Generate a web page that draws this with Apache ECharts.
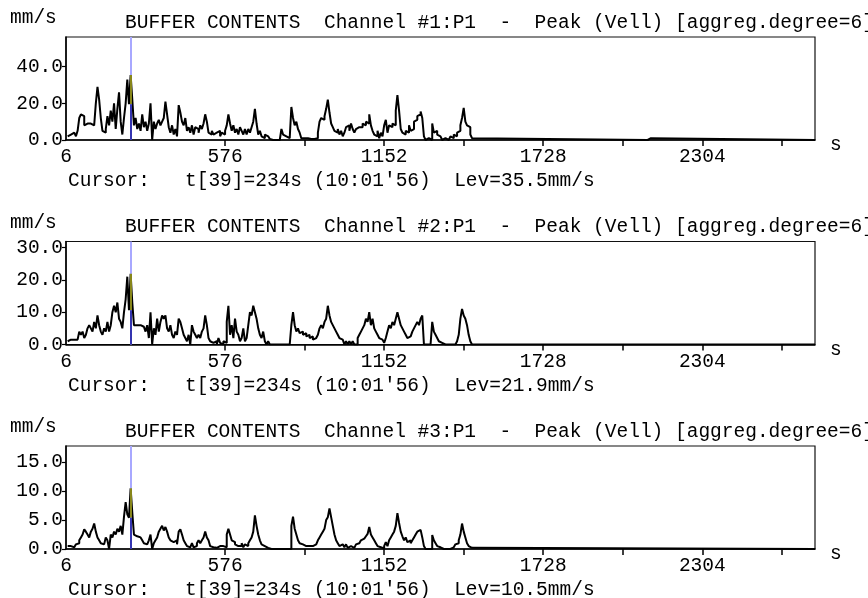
<!DOCTYPE html>
<html>
<head>
<meta charset="utf-8">
<script src="https://cdn.jsdelivr.net/npm/echarts@6/dist/echarts.min.js"></script>
<style>
html,body{margin:0;padding:0;background:#fff;}
#chart{width:868px;height:598px;}
</style>
</head>
<body>
<div id="chart"></div>
<script>
// ---- data (sample period 6 s, t = 6*i) ----
const SAMPLE_PERIOD = 6;
const CH1 = [
2,3,2,4,3,2,5, 12,14,13, 8,9,8,9,8,8,9, 20,29,22,12, 5,4,6, 13,8,16,10, 20,6, 17,26, 10,3,12, 20,33,19.5, 35.5, 22,
8,12,6,9,5, 14, 7,10,5,9,20, 0, 10,6,9,11,8,10,12, 21,14, 7,4,8,3,6,2, 19,15, 10,8,12,5,7,
4,8,3,7,6,4,8,6,9, 14,10, 4,3,5,3,4,3,5,2,4,3,5, 8,14,9, 5,8,4,6,3,7,5,3,6,3,6,4,7, 10,17,9, 3,5,2,1,3,2,
1,0.5,0,0.5,0,1,0,1, 6,3,2,1,1, 1, 18,12, 8,10,6,4, 1,1,2,1,1,0.5,1,0.5,1,1, 4,10,12,11,13, 17,22,15, 9,7,5,
4,6,3,5,2,4,7, 8,5,9,6, 4,6,7,8,7,9,8,10,9, 14,8,5, 3,2,5,1,4,2, 8,11,4, 8,7,9,8, 16,24.5,16, 6,4,3,5,4,
8,5,6,10,11, 13,14,15.5,12, 2,0,1,0,0, 9,4,5,3, 2,1,0,1,0,0, 1,2,1,3,2,4,5, 8,12,17.5, 10,8,7,3, 1, 0
];
const CH2 = [
1,1.5,1.5,1.5,2,1.5,2, 4,3,4, 2,3,5, 6,5,4,7, 5,9,6, 4,3,5,4, 7,4,6, 10,12,10, 13,8,7, 5,10,14, 21,10.6, 21.9, 13,
6,6,6.5,6,6,5.5,5,4,6, 2,10,0,5, 3,8,4, 7,9,8,9, 5,4,6,3,2,4,3, 8,7,5, 3,2,1,3,0, 6,4,3, 2,3,2,4,5, 9,6,
2,1,0.5,0,1,0,2,0.5,0,1,0.5, 7,12, 3,6,2,8, 4,3,1,2,5,1,2, 6,10,9,12,10,8, 5,3,2,4,1,0,
1, 0,0,0,0,0,0,0,0,0,0,0,0, 0,6,10,6, 4,5,3.5,4,3,3.5,2.5,3,2,2.5,1.5,2,2, 3,5,6,5, 7,8,12,9, 7,6,5,4,3,2,1.5,1,
0,1,0,1,0,1,0,0, 2,3,4,5,6,8, 7,10,6,8, 5,4,3,2,1.5,1,0.5, 2,4,6,5,7, 6,8,10,8, 6,5,4,3,2,2.5, 3,4,5,6, 7,6,8,9,
0,0,0,0,0, 7,4,3,2,1,0.5, 0,0,0,0,0,0,0,0,0, 1,3, 8,11,9, 8,6,3,1,0
];
const CH3 = [
0.5,0.5,0.5,0.3,0.5,0.8,1, 1.5,2,2.5,3.4,3, 2.5,2,3,3.5,4.4,3, 2,1.5,1,0.8,1, 2,1.5,0, 2.5,2,3,2.5, 3.5,3,4,2.5, 5.6,8.1,6, 5.4, 10.5, 6.3,
2.5,2.2,2.3,2,2,1.5,1,0.8,0.5, 1.5,2.5,0, 1,1.5,2, 3,3.5,4,3.2,3.8,3, 2,1.5,1.2,1,1.5,0.8, 3,3.4,2.5,
1.5,1,0.5,0.3,0.5,1,0.3, 0.5,1,1.5,1,1.5,2, 3,2,1.5, 0.5,0.3,0.5,0.2,0.3,0.5,0.2,0.5,0.2,0.3, 2.5,3.5,2.5,
1.5,1.2,0.8,0.5,0.3,0.5, 1,0.3,0.8,0.5,1,1.5, 2,3,5.8,4, 2.5,1.5,0.8,0.5,0.3,0.2,
0.2,0,0,0,0,0,0,0,0.3,0,0,0,0, 0,4,5.6,3.5, 2.5,1.5,1, 0.8,1,0.5,0.3,0.5,0.8,0.5,0.3,0.8,0.5, 1.5,2,2.5,3, 3.5,5,5.5,7,
5.5,4,2.5,1.5, 1,0.5,0.8,0.5,0.3,0.8,0.2,0.5,0.3,0.2, 0.5,0.8,1,1.2,1.5,1.8,2,2.2,2.6, 3.8,2.5,2, 1.5,1,0.5,0.3,0.2,0.1,
0.5,1.2,0.5, 1.5,2,2.5,3, 4,6.2,4.5, 3,2.2,1.5,2,1.2, 1.5,1,1.5,2,2.5, 3,3.3,3,2, 0.5,0,0,0,0, 2.4,1.5,1,0.5,
0.3,0,0,0,0,0,0,0,0.3,0.5, 0.8,1,1.5, 2.5,4.4,3, 2,1,0.5,0.2,0
];
// later isolated samples [t, value]
const EXTRA1 = [[2106,0],[2112,1],[2118,0]];
const EXTRA2 = [];
const EXTRA3 = [];
const X_MIN = 0, X_MAX = 2712;
const X_LABEL_VALUES = [0, 576, 1152, 1728, 2304];
const X_LABEL_TEXTS = ['6', '576', '1152', '1728', '2304'];
const X_TICK_VALUES = [576, 864, 1152, 1440, 1728, 2016, 2304, 2592];
const Y_MAXES = [56.2, 31.9, 17.8];
const Y_TICKS = [[0,20,40],[0,10,20,30],[0,5,10,15]];
const CHANNELS = ['#1:P1', '#2:P1', '#3:P1'];
const CURSOR_INDEX = 39;
const CURSOR_T = 234;
const CURSOR_TIME = "10:01'56";
const LEVELS = ['35.5', '21.9', '10.5'];

// ---- chart ----
const SERIES_DATA = [CH1, CH2, CH3];
const EXTRAS = [EXTRA1, EXTRA2, EXTRA3];
const FONT_FAMILY = '"Liberation Mono", "Courier New", monospace';
const FS = 19.5;
const FONT = FS + 'px ' + FONT_FAMILY;
const TOPS = [37, 241.5, 446];
const GRID_H = 103, GRID_L = 66, GRID_W = 749;

const grids = [], xAxes = [], yAxes = [], series = [], graphics = [];
SERIES_DATA.forEach((vals, p) => {
  grids.push({left: GRID_L, top: TOPS[p], width: GRID_W, height: GRID_H, show: true,
    borderColor: '#111', borderWidth: 1.2, backgroundColor: 'transparent'});
  xAxes.push({type: 'value', gridIndex: p, min: X_MIN, max: X_MAX,
    splitLine: {show: false},
    axisLine: {show: true, onZero: false, lineStyle: {color: '#000', width: 1.5}},
    axisTick: {show: true, customValues: X_TICK_VALUES, length: 6, lineStyle: {color: '#000', width: 1.5}},
    axisLabel: {show: true, customValues: X_LABEL_VALUES, margin: 7, color: '#000',
      fontFamily: FONT_FAMILY, fontSize: FS,
      formatter: v => X_LABEL_TEXTS[X_LABEL_VALUES.indexOf(v)]}
  });
  yAxes.push({type: 'value', gridIndex: p, min: 0, max: Y_MAXES[p],
    splitLine: {show: false},
    axisLine: {show: true, lineStyle: {color: '#000', width: 1.5}},
    axisTick: {show: true, customValues: Y_TICKS[p], length: 4, lineStyle: {color: '#000', width: 1.2}},
    axisLabel: {show: true, customValues: Y_TICKS[p], margin: 3, color: '#000',
      fontFamily: FONT_FAMILY, fontSize: FS, formatter: v => v.toFixed(1)}
  });
  const pts = vals.map((v, k) => [(k + 1) * SAMPLE_PERIOD, v]).concat(EXTRAS[p]);
  pts.push([X_MAX, 0]);
  const lev = vals[CURSOR_INDEX - 1];
  const prev = vals[CURSOR_INDEX - 2];
  series.push({type: 'line', xAxisIndex: p, yAxisIndex: p, data: pts, step: 'end',
    symbol: 'none', silent: true, animation: false,
    lineStyle: {color: '#000', width: 2},
    markLine: {silent: true, symbol: 'none', animation: false, label: {show: false},
      data: [
        [{coord: [CURSOR_T, 0], lineStyle: {color: '#a8a8ff', width: 2, type: 'solid'}},
         {coord: [CURSOR_T, Y_MAXES[p]]}],
        [{coord: [CURSOR_T, lev], lineStyle: {color: '#87861a', width: 2, type: 'solid'}},
         {coord: [CURSOR_T, prev]}],
        [{coord: [CURSOR_T, prev], lineStyle: {color: '#3434b0', width: 2, type: 'solid'}},
         {coord: [CURSOR_T, 0]}]
      ]}
  });
  const top = TOPS[p];
  const txt = (x, y, s) => graphics.push({type: 'text', x: x, y: y, silent: true,
    style: {text: s, font: FONT, fill: '#000', align: 'left', verticalAlign: 'middle'}});
  txt(10, top - 19, 'mm/s');
  txt(125, top - 14.5, 'BUFFER CONTENTS  Channel ' + CHANNELS[p] + '  -  Peak (Vell) [aggreg.degree=6]');
  txt(68, top + 144, 'Cursor:   t[' + CURSOR_INDEX + ']=' + CURSOR_T + 's (' + CURSOR_TIME + ')  Lev=' + LEVELS[p] + 'mm/s');
  txt(830, top + 108, 's');
});

const chart = echarts.init(document.getElementById('chart'), null, {renderer: 'canvas'});
chart.setOption({
  animation: false,
  backgroundColor: '#fff',
  grid: grids, xAxis: xAxes, yAxis: yAxes, series: series, graphic: graphics
});
</script>
</body>
</html>
